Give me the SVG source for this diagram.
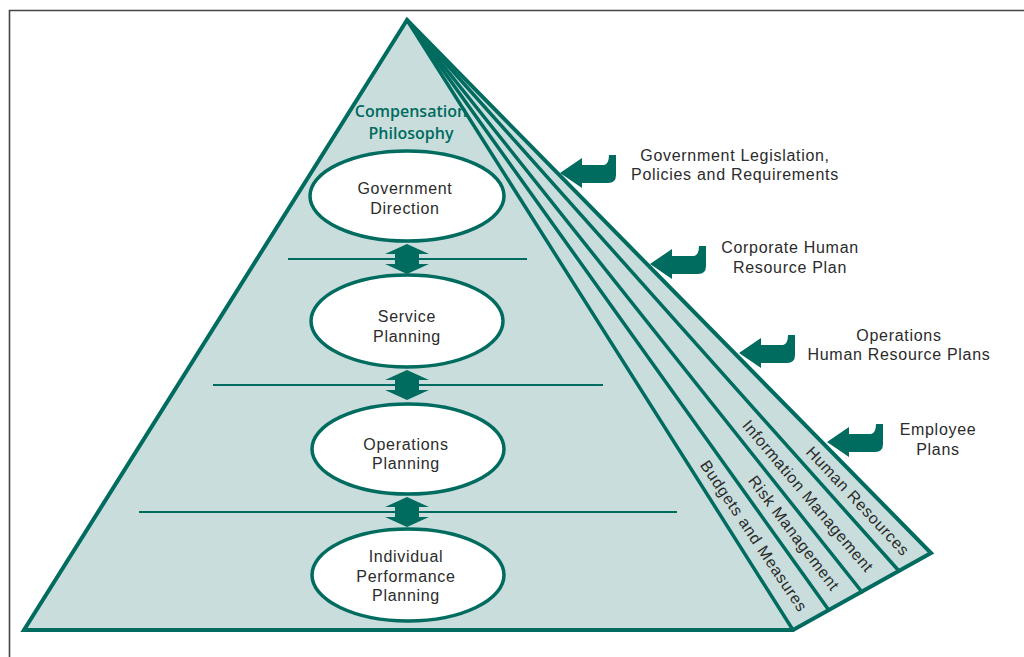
<svg xmlns="http://www.w3.org/2000/svg" xmlns:xlink="http://www.w3.org/1999/xlink" width="1024" height="657" viewBox="0 0 1024 657">
  <style>
    .frame { fill: none; stroke: #454545; stroke-width: 1.6; }
    .pyr { fill: #c9dedc; stroke: #006b5f; stroke-width: 4; stroke-linejoin: miter; }
    .edge { stroke: #006b5f; stroke-width: 3.5; fill: none; stroke-linecap: round; }
    .tier { stroke: #006b5f; stroke-width: 2; fill: none; }
    .oval { fill: #ffffff; stroke: #006b5f; stroke-width: 3.5; }
    .mark { fill: #006b5f; }
    .lbl { font-family: "Liberation Sans", Arial, sans-serif; font-size: 16px; fill: #2b2b2b; text-anchor: middle; letter-spacing: 0.7px; }
    .title { font-family: "Open Sans", "Liberation Sans", sans-serif; font-size: 16px; font-weight: 600; fill: #006b5f; text-anchor: middle; }
  </style>
  <defs>
    <!-- two-way arrow between planning levels -->
    <path id="dbl" d="M0,-15 L22,-5 L12,-5 L12,5 L22,5 L0,15 L-22,5 L-12,5 L-12,-5 L-22,-5 Z"/>
    <!-- hooked input arrow pointing at the pyramid face -->
    <path id="hook" d="M0,0 L22,-15 L22,-8 L44,-8 Q49,-9 49,-18 L56,-18 L56,2 Q56,10 48,10 L22,10 L22,15 Z"/>
  </defs>

  <rect width="1024" height="657" fill="#ffffff"/>
  <path class="frame" d="M9.5,657 L9.5,10.5 L1024,10.5"/>

  <g id="pyramid">
    <polygon class="pyr" points="407,20 24,630 793,630 931,553"/>
  </g>

  <g id="connectors">
    <line class="edge" x1="407" y1="20" x2="793" y2="630"/>
    <line class="edge" x1="407" y1="20" x2="828" y2="609"/>
    <line class="edge" x1="407" y1="20" x2="862" y2="592"/>
    <line class="edge" x1="407" y1="20" x2="899" y2="571"/>
    <line class="tier" x1="288" y1="259" x2="527" y2="259"/>
    <line class="tier" x1="213" y1="385" x2="603" y2="385"/>
    <line class="tier" x1="139" y1="512" x2="677" y2="512"/>
    <use href="#dbl" xlink:href="#dbl" class="mark" transform="translate(407,259)"/>
    <use href="#dbl" xlink:href="#dbl" class="mark" transform="translate(407,385)"/>
    <use href="#dbl" xlink:href="#dbl" class="mark" transform="translate(407,512)"/>
    <use href="#hook" xlink:href="#hook" class="mark" transform="translate(560,173)"/>
    <use href="#hook" xlink:href="#hook" class="mark" transform="translate(650,264)"/>
    <use href="#hook" xlink:href="#hook" class="mark" transform="translate(739,353)"/>
    <use href="#hook" xlink:href="#hook" class="mark" transform="translate(827,442)"/>
  </g>

  <g id="philosophy">
    <text class="title" x="411" y="117">Compensation</text>
    <text class="title" x="411" y="139">Philosophy</text>
  </g>

  <g id="government-direction">
    <ellipse class="oval" cx="407" cy="196" rx="97" ry="45"/>
    <text class="lbl" x="405" y="194">Government</text>
    <text class="lbl" x="405" y="214">Direction</text>
  </g>

  <g id="service-planning">
    <ellipse class="oval" cx="407" cy="321" rx="96" ry="46"/>
    <text class="lbl" x="407" y="322">Service</text>
    <text class="lbl" x="407" y="342">Planning</text>
  </g>

  <g id="operations-planning">
    <ellipse class="oval" cx="408" cy="449" rx="96" ry="45"/>
    <text class="lbl" x="406" y="450">Operations</text>
    <text class="lbl" x="406" y="469">Planning</text>
  </g>

  <g id="individual-planning">
    <ellipse class="oval" cx="408" cy="575" rx="96" ry="46"/>
    <text class="lbl" x="406" y="562">Individual</text>
    <text class="lbl" x="406" y="582">Performance</text>
    <text class="lbl" x="406" y="601">Planning</text>
  </g>

  <g id="strip-labels">
    <text class="lbl" dy="0.35em" transform="translate(754,536) rotate(56.1)">Budgets and Measures</text>
    <text class="lbl" dy="0.35em" transform="translate(794,533) rotate(52.9)">Risk Management</text>
    <text class="lbl" dy="0.35em" transform="translate(808,496) rotate(49.9)">Information Management</text>
    <text class="lbl" dy="0.35em" transform="translate(858,501) rotate(46.9)">Human Resources</text>
  </g>

  <g id="input-legislation">
    <text class="lbl" x="735" y="161">Government Legislation,</text>
    <text class="lbl" x="735" y="180">Policies and Requirements</text>
  </g>
  <g id="input-corporate">
    <text class="lbl" x="790" y="253">Corporate Human</text>
    <text class="lbl" x="790" y="273">Resource Plan</text>
  </g>
  <g id="input-operations">
    <text class="lbl" x="899" y="341">Operations</text>
    <text class="lbl" x="899" y="360">Human Resource Plans</text>
  </g>
  <g id="input-employee">
    <text class="lbl" x="938" y="435">Employee</text>
    <text class="lbl" x="938" y="455">Plans</text>
  </g>
</svg>
